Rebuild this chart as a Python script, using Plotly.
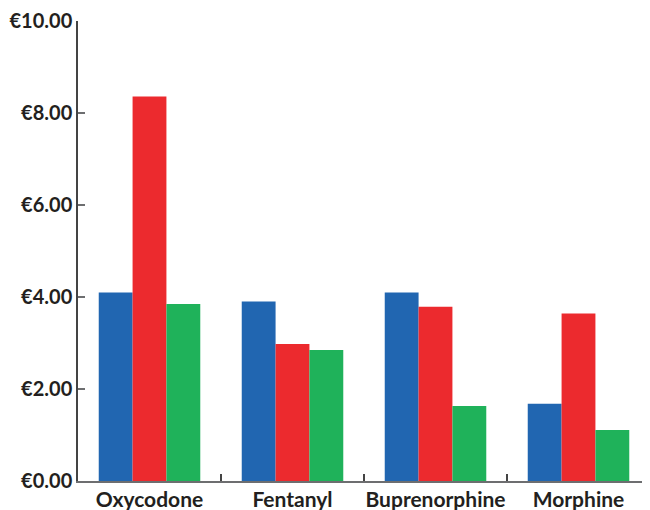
import plotly.graph_objects as go

categories = ["Oxycodone", "Fentanyl", "Buprenorphine", "Morphine"]
series_blue = [4.10, 3.90, 4.10, 1.68]
series_red = [8.36, 2.98, 3.79, 3.64]
series_green = [3.85, 2.85, 1.63, 1.11]
tick_vals = [0, 2, 4, 6, 8, 10]
tick_text = ["€0.00", "€2.00", "€4.00", "€6.00", "€8.00", "€10.00"]

colors = ["#2166b1", "#ec2a2e", "#1fb25a"]
fig = go.Figure()
for vals, c in zip([series_blue, series_red, series_green], colors):
    fig.add_trace(go.Bar(x=categories, y=vals, marker=dict(color=c, line=dict(width=0)), showlegend=False))

font_fam = "Lato, Open Sans, sans-serif"
# page body has an 8px margin, so the figure is offset accordingly
fig.update_layout(
    width=642, height=502,
    margin=dict(l=70, r=0, t=13, b=29),
    barmode="group", bargap=0.29, bargroupgap=0,
    plot_bgcolor="white", paper_bgcolor="white",
    font=dict(family=font_fam, color="#231f20"),
)
fig.update_xaxes(
    range=[-0.5, 3.5], showline=True, linecolor="#6d6e70", linewidth=2,
    ticks="inside", tickson="boundaries", ticklen=7, tickcolor="#444", tickwidth=1.5,
    tickfont=dict(size=21, family=font_fam, weight="bold", color="#231f20"),
    tickangle=0,
    showgrid=False, zeroline=False, automargin=False, ticklabelstandoff=-1,
)
fig.update_yaxes(
    range=[0, 10], tickvals=tick_vals, ticktext=tick_text,
    showline=True, linecolor="#444", linewidth=1.5,
    ticks="inside", ticklen=7, tickcolor="#6d6e70", tickwidth=1.5,
    tickfont=dict(size=20, family=font_fam, weight="bold", color="#231f20"),
    showgrid=False, zeroline=False, ticklabelstandoff=0, automargin=False,
)
fig.write_html("out.html")
